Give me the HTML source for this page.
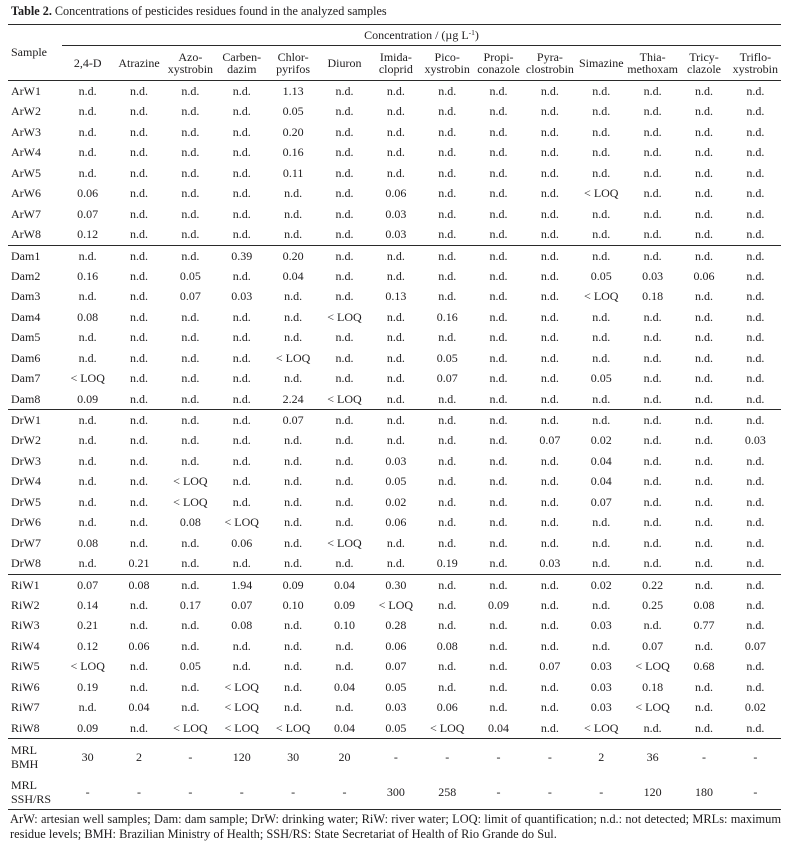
<!DOCTYPE html>
<html>
<head>
<meta charset="utf-8">
<style>
  html,body{margin:0;padding:0;background:#fff;}
  body{width:790px;height:847px;position:relative;overflow:hidden;
       font-family:"Liberation Serif","Times New Roman",serif;font-size:12px;color:#1e1c1d;}
  .abs{position:absolute;}
  .ln{position:absolute;height:1px;background:#2a2a2a;}
  .title{left:11px;top:4px;line-height:14px;white-space:nowrap;font-size:12.2px;}
  .grp{position:absolute;left:8px;width:773px;}
  .row{display:flex;align-items:center;height:20.44px;line-height:20.44px;white-space:nowrap;}
  .s{width:54px;padding-left:3px;box-sizing:border-box;flex:none;}
  .c{width:51.36px;text-align:center;flex:none;}
  .hdr{position:absolute;left:8px;top:46px;width:773px;height:34px;display:flex;align-items:center;line-height:12.5px;white-space:nowrap;}
  .mrl{display:flex;align-items:center;height:35px;line-height:14px;white-space:nowrap;}
  .foot{position:absolute;left:10px;width:771px;line-height:15px;text-align:justify;white-space:nowrap;font-size:12.4px;}
  sup{font-size:7.5px;vertical-align:4px;line-height:0;}
</style>
</head>
<body>

<div class="abs title"><b>Table 2.</b> Concentrations of pesticides residues found in the analyzed samples</div>

<div class="ln" style="left:8px;top:24px;width:773px;"></div>
<div class="abs" style="left:62px;top:25px;width:719px;height:20px;line-height:20px;text-align:center;">Concentration / (µg L<sup>-1</sup>)</div>
<div class="ln" style="left:62px;top:45px;width:719px;"></div>
<div class="abs" style="left:11px;top:25px;height:55px;line-height:55px;">Sample</div>

<div class="hdr">
  <div class="s"></div>
  <div class="c">2,4-D</div>
  <div class="c">Atrazine</div>
  <div class="c">Azo-<br>xystrobin</div>
  <div class="c">Carben-<br>dazim</div>
  <div class="c">Chlor-<br>pyrifos</div>
  <div class="c">Diuron</div>
  <div class="c">Imida-<br>cloprid</div>
  <div class="c">Pico-<br>xystrobin</div>
  <div class="c">Propi-<br>conazole</div>
  <div class="c">Pyra-<br>clostrobin</div>
  <div class="c">Simazine</div>
  <div class="c">Thia-<br>methoxam</div>
  <div class="c">Tricy-<br>clazole</div>
  <div class="c">Triflo-<br>xystrobin</div>
</div>
<div class="ln" style="left:8px;top:80px;width:773px;"></div>

<!-- ArW group -->
<div class="grp" style="top:81px;">
  <div class="row"><div class="s">ArW1</div><div class="c">n.d.</div><div class="c">n.d.</div><div class="c">n.d.</div><div class="c">n.d.</div><div class="c">1.13</div><div class="c">n.d.</div><div class="c">n.d.</div><div class="c">n.d.</div><div class="c">n.d.</div><div class="c">n.d.</div><div class="c">n.d.</div><div class="c">n.d.</div><div class="c">n.d.</div><div class="c">n.d.</div></div>
  <div class="row"><div class="s">ArW2</div><div class="c">n.d.</div><div class="c">n.d.</div><div class="c">n.d.</div><div class="c">n.d.</div><div class="c">0.05</div><div class="c">n.d.</div><div class="c">n.d.</div><div class="c">n.d.</div><div class="c">n.d.</div><div class="c">n.d.</div><div class="c">n.d.</div><div class="c">n.d.</div><div class="c">n.d.</div><div class="c">n.d.</div></div>
  <div class="row"><div class="s">ArW3</div><div class="c">n.d.</div><div class="c">n.d.</div><div class="c">n.d.</div><div class="c">n.d.</div><div class="c">0.20</div><div class="c">n.d.</div><div class="c">n.d.</div><div class="c">n.d.</div><div class="c">n.d.</div><div class="c">n.d.</div><div class="c">n.d.</div><div class="c">n.d.</div><div class="c">n.d.</div><div class="c">n.d.</div></div>
  <div class="row"><div class="s">ArW4</div><div class="c">n.d.</div><div class="c">n.d.</div><div class="c">n.d.</div><div class="c">n.d.</div><div class="c">0.16</div><div class="c">n.d.</div><div class="c">n.d.</div><div class="c">n.d.</div><div class="c">n.d.</div><div class="c">n.d.</div><div class="c">n.d.</div><div class="c">n.d.</div><div class="c">n.d.</div><div class="c">n.d.</div></div>
  <div class="row"><div class="s">ArW5</div><div class="c">n.d.</div><div class="c">n.d.</div><div class="c">n.d.</div><div class="c">n.d.</div><div class="c">0.11</div><div class="c">n.d.</div><div class="c">n.d.</div><div class="c">n.d.</div><div class="c">n.d.</div><div class="c">n.d.</div><div class="c">n.d.</div><div class="c">n.d.</div><div class="c">n.d.</div><div class="c">n.d.</div></div>
  <div class="row"><div class="s">ArW6</div><div class="c">0.06</div><div class="c">n.d.</div><div class="c">n.d.</div><div class="c">n.d.</div><div class="c">n.d.</div><div class="c">n.d.</div><div class="c">0.06</div><div class="c">n.d.</div><div class="c">n.d.</div><div class="c">n.d.</div><div class="c">&lt; LOQ</div><div class="c">n.d.</div><div class="c">n.d.</div><div class="c">n.d.</div></div>
  <div class="row"><div class="s">ArW7</div><div class="c">0.07</div><div class="c">n.d.</div><div class="c">n.d.</div><div class="c">n.d.</div><div class="c">n.d.</div><div class="c">n.d.</div><div class="c">0.03</div><div class="c">n.d.</div><div class="c">n.d.</div><div class="c">n.d.</div><div class="c">n.d.</div><div class="c">n.d.</div><div class="c">n.d.</div><div class="c">n.d.</div></div>
  <div class="row"><div class="s">ArW8</div><div class="c">0.12</div><div class="c">n.d.</div><div class="c">n.d.</div><div class="c">n.d.</div><div class="c">n.d.</div><div class="c">n.d.</div><div class="c">0.03</div><div class="c">n.d.</div><div class="c">n.d.</div><div class="c">n.d.</div><div class="c">n.d.</div><div class="c">n.d.</div><div class="c">n.d.</div><div class="c">n.d.</div></div>
</div>
<div class="ln" style="left:8px;top:244.5px;width:773px;"></div>

<!-- Dam group -->
<div class="grp" style="top:245.5px;">
  <div class="row"><div class="s">Dam1</div><div class="c">n.d.</div><div class="c">n.d.</div><div class="c">n.d.</div><div class="c">0.39</div><div class="c">0.20</div><div class="c">n.d.</div><div class="c">n.d.</div><div class="c">n.d.</div><div class="c">n.d.</div><div class="c">n.d.</div><div class="c">n.d.</div><div class="c">n.d.</div><div class="c">n.d.</div><div class="c">n.d.</div></div>
  <div class="row"><div class="s">Dam2</div><div class="c">0.16</div><div class="c">n.d.</div><div class="c">0.05</div><div class="c">n.d.</div><div class="c">0.04</div><div class="c">n.d.</div><div class="c">n.d.</div><div class="c">n.d.</div><div class="c">n.d.</div><div class="c">n.d.</div><div class="c">0.05</div><div class="c">0.03</div><div class="c">0.06</div><div class="c">n.d.</div></div>
  <div class="row"><div class="s">Dam3</div><div class="c">n.d.</div><div class="c">n.d.</div><div class="c">0.07</div><div class="c">0.03</div><div class="c">n.d.</div><div class="c">n.d.</div><div class="c">0.13</div><div class="c">n.d.</div><div class="c">n.d.</div><div class="c">n.d.</div><div class="c">&lt; LOQ</div><div class="c">0.18</div><div class="c">n.d.</div><div class="c">n.d.</div></div>
  <div class="row"><div class="s">Dam4</div><div class="c">0.08</div><div class="c">n.d.</div><div class="c">n.d.</div><div class="c">n.d.</div><div class="c">n.d.</div><div class="c">&lt; LOQ</div><div class="c">n.d.</div><div class="c">0.16</div><div class="c">n.d.</div><div class="c">n.d.</div><div class="c">n.d.</div><div class="c">n.d.</div><div class="c">n.d.</div><div class="c">n.d.</div></div>
  <div class="row"><div class="s">Dam5</div><div class="c">n.d.</div><div class="c">n.d.</div><div class="c">n.d.</div><div class="c">n.d.</div><div class="c">n.d.</div><div class="c">n.d.</div><div class="c">n.d.</div><div class="c">n.d.</div><div class="c">n.d.</div><div class="c">n.d.</div><div class="c">n.d.</div><div class="c">n.d.</div><div class="c">n.d.</div><div class="c">n.d.</div></div>
  <div class="row"><div class="s">Dam6</div><div class="c">n.d.</div><div class="c">n.d.</div><div class="c">n.d.</div><div class="c">n.d.</div><div class="c">&lt; LOQ</div><div class="c">n.d.</div><div class="c">n.d.</div><div class="c">0.05</div><div class="c">n.d.</div><div class="c">n.d.</div><div class="c">n.d.</div><div class="c">n.d.</div><div class="c">n.d.</div><div class="c">n.d.</div></div>
  <div class="row"><div class="s">Dam7</div><div class="c">&lt; LOQ</div><div class="c">n.d.</div><div class="c">n.d.</div><div class="c">n.d.</div><div class="c">n.d.</div><div class="c">n.d.</div><div class="c">n.d.</div><div class="c">0.07</div><div class="c">n.d.</div><div class="c">n.d.</div><div class="c">0.05</div><div class="c">n.d.</div><div class="c">n.d.</div><div class="c">n.d.</div></div>
  <div class="row"><div class="s">Dam8</div><div class="c">0.09</div><div class="c">n.d.</div><div class="c">n.d.</div><div class="c">n.d.</div><div class="c">2.24</div><div class="c">&lt; LOQ</div><div class="c">n.d.</div><div class="c">n.d.</div><div class="c">n.d.</div><div class="c">n.d.</div><div class="c">n.d.</div><div class="c">n.d.</div><div class="c">n.d.</div><div class="c">n.d.</div></div>
</div>
<div class="ln" style="left:8px;top:409px;width:773px;"></div>

<!-- DrW group -->
<div class="grp" style="top:410px;">
  <div class="row"><div class="s">DrW1</div><div class="c">n.d.</div><div class="c">n.d.</div><div class="c">n.d.</div><div class="c">n.d.</div><div class="c">0.07</div><div class="c">n.d.</div><div class="c">n.d.</div><div class="c">n.d.</div><div class="c">n.d.</div><div class="c">n.d.</div><div class="c">n.d.</div><div class="c">n.d.</div><div class="c">n.d.</div><div class="c">n.d.</div></div>
  <div class="row"><div class="s">DrW2</div><div class="c">n.d.</div><div class="c">n.d.</div><div class="c">n.d.</div><div class="c">n.d.</div><div class="c">n.d.</div><div class="c">n.d.</div><div class="c">n.d.</div><div class="c">n.d.</div><div class="c">n.d.</div><div class="c">0.07</div><div class="c">0.02</div><div class="c">n.d.</div><div class="c">n.d.</div><div class="c">0.03</div></div>
  <div class="row"><div class="s">DrW3</div><div class="c">n.d.</div><div class="c">n.d.</div><div class="c">n.d.</div><div class="c">n.d.</div><div class="c">n.d.</div><div class="c">n.d.</div><div class="c">0.03</div><div class="c">n.d.</div><div class="c">n.d.</div><div class="c">n.d.</div><div class="c">0.04</div><div class="c">n.d.</div><div class="c">n.d.</div><div class="c">n.d.</div></div>
  <div class="row"><div class="s">DrW4</div><div class="c">n.d.</div><div class="c">n.d.</div><div class="c">&lt; LOQ</div><div class="c">n.d.</div><div class="c">n.d.</div><div class="c">n.d.</div><div class="c">0.05</div><div class="c">n.d.</div><div class="c">n.d.</div><div class="c">n.d.</div><div class="c">0.04</div><div class="c">n.d.</div><div class="c">n.d.</div><div class="c">n.d.</div></div>
  <div class="row"><div class="s">DrW5</div><div class="c">n.d.</div><div class="c">n.d.</div><div class="c">&lt; LOQ</div><div class="c">n.d.</div><div class="c">n.d.</div><div class="c">n.d.</div><div class="c">0.02</div><div class="c">n.d.</div><div class="c">n.d.</div><div class="c">n.d.</div><div class="c">0.07</div><div class="c">n.d.</div><div class="c">n.d.</div><div class="c">n.d.</div></div>
  <div class="row"><div class="s">DrW6</div><div class="c">n.d.</div><div class="c">n.d.</div><div class="c">0.08</div><div class="c">&lt; LOQ</div><div class="c">n.d.</div><div class="c">n.d.</div><div class="c">0.06</div><div class="c">n.d.</div><div class="c">n.d.</div><div class="c">n.d.</div><div class="c">n.d.</div><div class="c">n.d.</div><div class="c">n.d.</div><div class="c">n.d.</div></div>
  <div class="row"><div class="s">DrW7</div><div class="c">0.08</div><div class="c">n.d.</div><div class="c">n.d.</div><div class="c">0.06</div><div class="c">n.d.</div><div class="c">&lt; LOQ</div><div class="c">n.d.</div><div class="c">n.d.</div><div class="c">n.d.</div><div class="c">n.d.</div><div class="c">n.d.</div><div class="c">n.d.</div><div class="c">n.d.</div><div class="c">n.d.</div></div>
  <div class="row"><div class="s">DrW8</div><div class="c">n.d.</div><div class="c">0.21</div><div class="c">n.d.</div><div class="c">n.d.</div><div class="c">n.d.</div><div class="c">n.d.</div><div class="c">n.d.</div><div class="c">0.19</div><div class="c">n.d.</div><div class="c">0.03</div><div class="c">n.d.</div><div class="c">n.d.</div><div class="c">n.d.</div><div class="c">n.d.</div></div>
</div>
<div class="ln" style="left:8px;top:573.5px;width:773px;"></div>

<!-- RiW group -->
<div class="grp" style="top:574.5px;">
  <div class="row"><div class="s">RiW1</div><div class="c">0.07</div><div class="c">0.08</div><div class="c">n.d.</div><div class="c">1.94</div><div class="c">0.09</div><div class="c">0.04</div><div class="c">0.30</div><div class="c">n.d.</div><div class="c">n.d.</div><div class="c">n.d.</div><div class="c">0.02</div><div class="c">0.22</div><div class="c">n.d.</div><div class="c">n.d.</div></div>
  <div class="row"><div class="s">RiW2</div><div class="c">0.14</div><div class="c">n.d.</div><div class="c">0.17</div><div class="c">0.07</div><div class="c">0.10</div><div class="c">0.09</div><div class="c">&lt; LOQ</div><div class="c">n.d.</div><div class="c">0.09</div><div class="c">n.d.</div><div class="c">n.d.</div><div class="c">0.25</div><div class="c">0.08</div><div class="c">n.d.</div></div>
  <div class="row"><div class="s">RiW3</div><div class="c">0.21</div><div class="c">n.d.</div><div class="c">n.d.</div><div class="c">0.08</div><div class="c">n.d.</div><div class="c">0.10</div><div class="c">0.28</div><div class="c">n.d.</div><div class="c">n.d.</div><div class="c">n.d.</div><div class="c">0.03</div><div class="c">n.d.</div><div class="c">0.77</div><div class="c">n.d.</div></div>
  <div class="row"><div class="s">RiW4</div><div class="c">0.12</div><div class="c">0.06</div><div class="c">n.d.</div><div class="c">n.d.</div><div class="c">n.d.</div><div class="c">n.d.</div><div class="c">0.06</div><div class="c">0.08</div><div class="c">n.d.</div><div class="c">n.d.</div><div class="c">n.d.</div><div class="c">0.07</div><div class="c">n.d.</div><div class="c">0.07</div></div>
  <div class="row"><div class="s">RiW5</div><div class="c">&lt; LOQ</div><div class="c">n.d.</div><div class="c">0.05</div><div class="c">n.d.</div><div class="c">n.d.</div><div class="c">n.d.</div><div class="c">0.07</div><div class="c">n.d.</div><div class="c">n.d.</div><div class="c">0.07</div><div class="c">0.03</div><div class="c">&lt; LOQ</div><div class="c">0.68</div><div class="c">n.d.</div></div>
  <div class="row"><div class="s">RiW6</div><div class="c">0.19</div><div class="c">n.d.</div><div class="c">n.d.</div><div class="c">&lt; LOQ</div><div class="c">n.d.</div><div class="c">0.04</div><div class="c">0.05</div><div class="c">n.d.</div><div class="c">n.d.</div><div class="c">n.d.</div><div class="c">0.03</div><div class="c">0.18</div><div class="c">n.d.</div><div class="c">n.d.</div></div>
  <div class="row"><div class="s">RiW7</div><div class="c">n.d.</div><div class="c">0.04</div><div class="c">n.d.</div><div class="c">&lt; LOQ</div><div class="c">n.d.</div><div class="c">n.d.</div><div class="c">0.03</div><div class="c">0.06</div><div class="c">n.d.</div><div class="c">n.d.</div><div class="c">0.03</div><div class="c">&lt; LOQ</div><div class="c">n.d.</div><div class="c">0.02</div></div>
  <div class="row"><div class="s">RiW8</div><div class="c">0.09</div><div class="c">n.d.</div><div class="c">&lt; LOQ</div><div class="c">&lt; LOQ</div><div class="c">&lt; LOQ</div><div class="c">0.04</div><div class="c">0.05</div><div class="c">&lt; LOQ</div><div class="c">0.04</div><div class="c">n.d.</div><div class="c">&lt; LOQ</div><div class="c">n.d.</div><div class="c">n.d.</div><div class="c">n.d.</div></div>
</div>
<div class="ln" style="left:8px;top:738px;width:773px;"></div>

<!-- MRL rows -->
<div class="grp" style="top:739px;">
  <div class="mrl"><div class="s">MRL<br>BMH</div><div class="c">30</div><div class="c">2</div><div class="c">-</div><div class="c">120</div><div class="c">30</div><div class="c">20</div><div class="c">-</div><div class="c">-</div><div class="c">-</div><div class="c">-</div><div class="c">2</div><div class="c">36</div><div class="c">-</div><div class="c">-</div></div>
  <div class="mrl"><div class="s">MRL<br>SSH/RS</div><div class="c">-</div><div class="c">-</div><div class="c">-</div><div class="c">-</div><div class="c">-</div><div class="c">-</div><div class="c">300</div><div class="c">258</div><div class="c">-</div><div class="c">-</div><div class="c">-</div><div class="c">120</div><div class="c">180</div><div class="c">-</div></div>
</div>
<div class="ln" style="left:8px;top:809px;width:773px;"></div>

<div class="foot" style="top:811.5px;text-align-last:justify;">ArW: artesian well samples; Dam: dam sample; DrW: drinking water; RiW: river water; LOQ: limit of quantification; n.d.: not detected; MRLs: maximum</div>
<div class="foot" style="top:826.5px;text-align:left;">residue levels; BMH: Brazilian Ministry of Health; SSH/RS: State Secretariat of Health of Rio Grande do Sul.</div>

</body>
</html>
